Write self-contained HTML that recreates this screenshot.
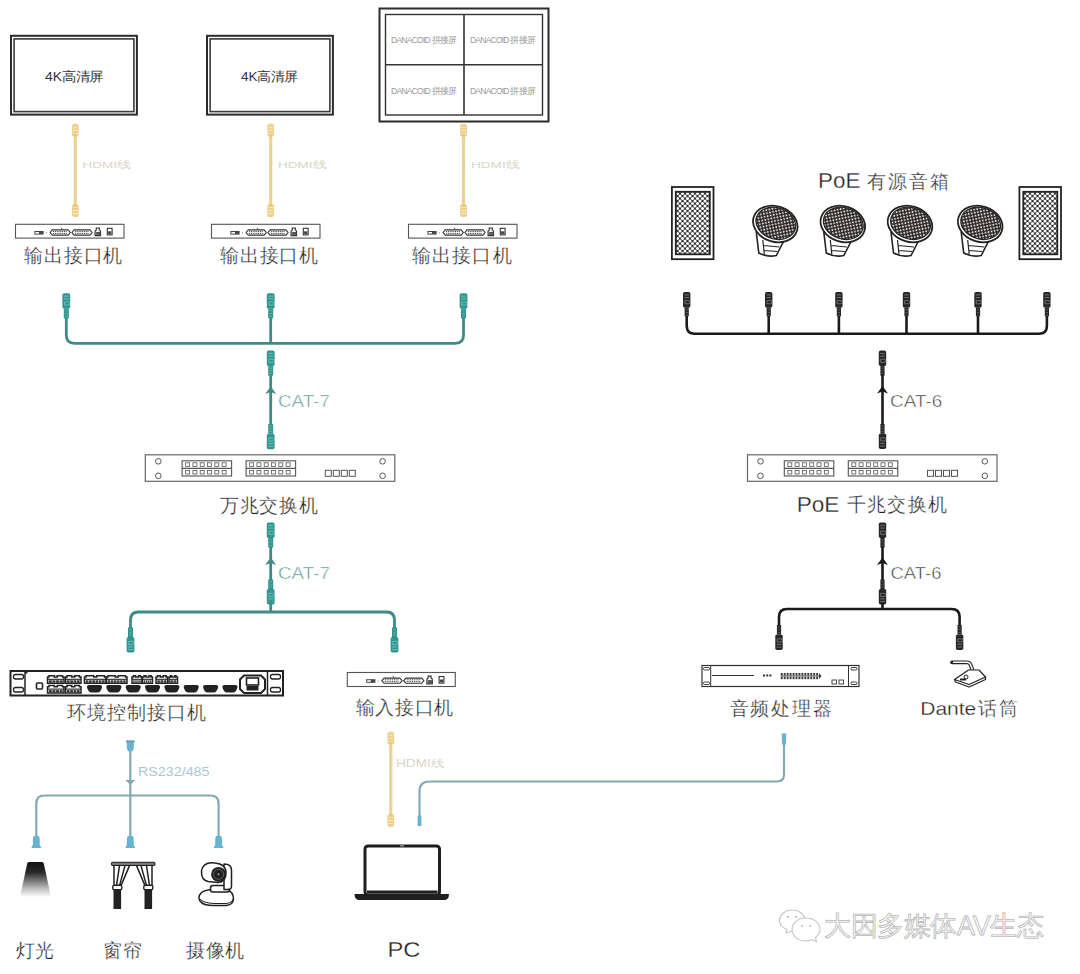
<!DOCTYPE html><html><head><meta charset="utf-8"><style>html,body{margin:0;padding:0;background:#fff;width:1080px;height:974px;overflow:hidden}svg{display:block}</style></head><body><svg width="1080" height="974" viewBox="0 0 1080 974" font-family="'Liberation Sans', sans-serif"><defs><pattern id="mesh" width="5" height="5" patternUnits="userSpaceOnUse" x="675" y="191"><rect width="5" height="5" fill="#2b2b2b"/><circle cx="0" cy="0" r="1.55" fill="#fff"/><circle cx="5" cy="0" r="1.55" fill="#fff"/><circle cx="0" cy="5" r="1.55" fill="#fff"/><circle cx="5" cy="5" r="1.55" fill="#fff"/><circle cx="2.5" cy="2.5" r="1.55" fill="#fff"/></pattern><pattern id="mesh2" width="4.4" height="4.4" patternUnits="userSpaceOnUse" patternTransform="rotate(15)"><rect width="4.4" height="4.4" fill="#2e2626"/><circle cx="0" cy="0" r="0.95" fill="#fff"/><circle cx="4.4" cy="0" r="0.95" fill="#fff"/><circle cx="0" cy="4.4" r="0.95" fill="#fff"/><circle cx="4.4" cy="4.4" r="0.95" fill="#fff"/><circle cx="2.2" cy="2.2" r="0.95" fill="#fff"/></pattern><linearGradient id="lamp" x1="0" y1="0" x2="0" y2="1"><stop offset="0" stop-color="#111"/><stop offset="0.3" stop-color="#2a2a2a"/><stop offset="0.75" stop-color="#bbb"/><stop offset="1" stop-color="#fff"/></linearGradient></defs><rect width="1080" height="974" fill="#fff"/><rect x="11" y="35.8" width="125.9" height="78.8" fill="none" stroke="#2b2b2b" stroke-width="2"/><rect x="14.1" y="38.9" width="119.8" height="72.7" fill="none" stroke="#3a3a3a" stroke-width="1.6"/><rect x="207" y="35.8" width="125.9" height="78.8" fill="none" stroke="#2b2b2b" stroke-width="2"/><rect x="210.1" y="38.9" width="119.8" height="72.7" fill="none" stroke="#3a3a3a" stroke-width="1.6"/><rect x="379.5" y="8.5" width="169" height="113" fill="none" stroke="#2b2b2b" stroke-width="2"/><rect x="385.5" y="14.5" width="157" height="100.5" fill="none" stroke="#333" stroke-width="1.4"/><line x1="464" y1="14.5" x2="464" y2="115" stroke="#333" stroke-width="1.6"/><line x1="385.5" y1="64.8" x2="542.5" y2="64.8" stroke="#333" stroke-width="1.6"/><line x1="75.3" y1="131.8" x2="75.3" y2="209" stroke="#ead493" stroke-width="3.2"/><rect x="71.89999999999999" y="123.8" width="6.8" height="13" rx="2.8" fill="#e8c670" opacity="0.8"/><rect x="72.89999999999999" y="126.8" width="4.8" height="0.9" fill="#f6ead0"/><rect x="72.89999999999999" y="129.8" width="4.8" height="0.9" fill="#f6ead0"/><rect x="72.89999999999999" y="132.8" width="4.8" height="0.9" fill="#f6ead0"/><rect x="71.89999999999999" y="204" width="6.8" height="13" rx="2.8" fill="#e8c670" opacity="0.8"/><rect x="72.89999999999999" y="207" width="4.8" height="0.9" fill="#f6ead0"/><rect x="72.89999999999999" y="210" width="4.8" height="0.9" fill="#f6ead0"/><rect x="72.89999999999999" y="213" width="4.8" height="0.9" fill="#f6ead0"/><line x1="270.7" y1="131.8" x2="270.7" y2="209" stroke="#ead493" stroke-width="3.2"/><rect x="267.3" y="123.8" width="6.8" height="13" rx="2.8" fill="#e8c670" opacity="0.8"/><rect x="268.3" y="126.8" width="4.8" height="0.9" fill="#f6ead0"/><rect x="268.3" y="129.8" width="4.8" height="0.9" fill="#f6ead0"/><rect x="268.3" y="132.8" width="4.8" height="0.9" fill="#f6ead0"/><rect x="267.3" y="204" width="6.8" height="13" rx="2.8" fill="#e8c670" opacity="0.8"/><rect x="268.3" y="207" width="4.8" height="0.9" fill="#f6ead0"/><rect x="268.3" y="210" width="4.8" height="0.9" fill="#f6ead0"/><rect x="268.3" y="213" width="4.8" height="0.9" fill="#f6ead0"/><line x1="463.5" y1="131.8" x2="463.5" y2="209" stroke="#ead493" stroke-width="3.2"/><rect x="460.1" y="123.8" width="6.8" height="13" rx="2.8" fill="#e8c670" opacity="0.8"/><rect x="461.1" y="126.8" width="4.8" height="0.9" fill="#f6ead0"/><rect x="461.1" y="129.8" width="4.8" height="0.9" fill="#f6ead0"/><rect x="461.1" y="132.8" width="4.8" height="0.9" fill="#f6ead0"/><rect x="460.1" y="204" width="6.8" height="13" rx="2.8" fill="#e8c670" opacity="0.8"/><rect x="461.1" y="207" width="4.8" height="0.9" fill="#f6ead0"/><rect x="461.1" y="210" width="4.8" height="0.9" fill="#f6ead0"/><rect x="461.1" y="213" width="4.8" height="0.9" fill="#f6ead0"/><rect x="15.5" y="224.3" width="108.5" height="13.8" fill="#fff" stroke="#555" stroke-width="1.1"/><rect x="34.9" y="231.5" width="8.2" height="2.6" fill="#fff" stroke="#444" stroke-width="1"/><rect x="39.0" y="231.7" width="4" height="2.2" fill="#444"/><circle cx="46.3" cy="232.8" r="0.6" fill="#777"/><path d="M50.1 232.5 l2.2 -2.6 h15.8 l2.2 2.6 l-2.2 2.6 h-15.8 z" fill="#fff" stroke="#333" stroke-width="1.1"/><line x1="53.1" y1="231.6" x2="67.3" y2="231.6" stroke="#333" stroke-width="1" stroke-dasharray="1 0.8"/><line x1="53.1" y1="233.4" x2="67.3" y2="233.4" stroke="#333" stroke-width="1" stroke-dasharray="1 0.8"/><path d="M71.9 232.5 l2.2 -2.6 h15.8 l2.2 2.6 l-2.2 2.6 h-15.8 z" fill="#fff" stroke="#333" stroke-width="1.1"/><line x1="74.9" y1="231.6" x2="89.10000000000001" y2="231.6" stroke="#333" stroke-width="1" stroke-dasharray="1 0.8"/><line x1="74.9" y1="233.4" x2="89.10000000000001" y2="233.4" stroke="#333" stroke-width="1" stroke-dasharray="1 0.8"/><line x1="61.0" y1="227.7" x2="62.5" y2="229.7" stroke="#444" stroke-width="0.9"/><path d="M95.1 235.7 v-4.2 q0 -1.2 1.2 -1.5 l0 -2 h3 l0 2 q1.2 0.3 1.2 1.5 v4.2 z" fill="#fff" stroke="#333" stroke-width="1.2"/><rect x="96.1" y="231.9" width="4.2" height="3" fill="#555"/><rect x="107.3" y="228.3" width="4.8" height="6.6" fill="#fff" stroke="#333" stroke-width="1.1"/><rect x="108.1" y="231.3" width="3.2" height="2.8" fill="#444"/><rect x="211.5" y="224.3" width="108.5" height="13.8" fill="#fff" stroke="#555" stroke-width="1.1"/><rect x="230.9" y="231.5" width="8.2" height="2.6" fill="#fff" stroke="#444" stroke-width="1"/><rect x="235.0" y="231.7" width="4" height="2.2" fill="#444"/><circle cx="242.3" cy="232.8" r="0.6" fill="#777"/><path d="M246.1 232.5 l2.2 -2.6 h15.8 l2.2 2.6 l-2.2 2.6 h-15.8 z" fill="#fff" stroke="#333" stroke-width="1.1"/><line x1="249.1" y1="231.6" x2="263.3" y2="231.6" stroke="#333" stroke-width="1" stroke-dasharray="1 0.8"/><line x1="249.1" y1="233.4" x2="263.3" y2="233.4" stroke="#333" stroke-width="1" stroke-dasharray="1 0.8"/><path d="M267.9 232.5 l2.2 -2.6 h15.8 l2.2 2.6 l-2.2 2.6 h-15.8 z" fill="#fff" stroke="#333" stroke-width="1.1"/><line x1="270.9" y1="231.6" x2="285.09999999999997" y2="231.6" stroke="#333" stroke-width="1" stroke-dasharray="1 0.8"/><line x1="270.9" y1="233.4" x2="285.09999999999997" y2="233.4" stroke="#333" stroke-width="1" stroke-dasharray="1 0.8"/><line x1="257.0" y1="227.7" x2="258.5" y2="229.7" stroke="#444" stroke-width="0.9"/><path d="M291.1 235.7 v-4.2 q0 -1.2 1.2 -1.5 l0 -2 h3 l0 2 q1.2 0.3 1.2 1.5 v4.2 z" fill="#fff" stroke="#333" stroke-width="1.2"/><rect x="292.1" y="231.9" width="4.2" height="3" fill="#555"/><rect x="303.3" y="228.3" width="4.8" height="6.6" fill="#fff" stroke="#333" stroke-width="1.1"/><rect x="304.1" y="231.3" width="3.2" height="2.8" fill="#444"/><rect x="408.5" y="224.3" width="108.5" height="13.8" fill="#fff" stroke="#555" stroke-width="1.1"/><rect x="427.9" y="231.5" width="8.2" height="2.6" fill="#fff" stroke="#444" stroke-width="1"/><rect x="432.0" y="231.7" width="4" height="2.2" fill="#444"/><circle cx="439.3" cy="232.8" r="0.6" fill="#777"/><path d="M443.1 232.5 l2.2 -2.6 h15.8 l2.2 2.6 l-2.2 2.6 h-15.8 z" fill="#fff" stroke="#333" stroke-width="1.1"/><line x1="446.1" y1="231.6" x2="460.3" y2="231.6" stroke="#333" stroke-width="1" stroke-dasharray="1 0.8"/><line x1="446.1" y1="233.4" x2="460.3" y2="233.4" stroke="#333" stroke-width="1" stroke-dasharray="1 0.8"/><path d="M464.9 232.5 l2.2 -2.6 h15.8 l2.2 2.6 l-2.2 2.6 h-15.8 z" fill="#fff" stroke="#333" stroke-width="1.1"/><line x1="467.9" y1="231.6" x2="482.09999999999997" y2="231.6" stroke="#333" stroke-width="1" stroke-dasharray="1 0.8"/><line x1="467.9" y1="233.4" x2="482.09999999999997" y2="233.4" stroke="#333" stroke-width="1" stroke-dasharray="1 0.8"/><line x1="454.0" y1="227.7" x2="455.5" y2="229.7" stroke="#444" stroke-width="0.9"/><path d="M488.1 235.7 v-4.2 q0 -1.2 1.2 -1.5 l0 -2 h3 l0 2 q1.2 0.3 1.2 1.5 v4.2 z" fill="#fff" stroke="#333" stroke-width="1.2"/><rect x="489.1" y="231.9" width="4.2" height="3" fill="#555"/><rect x="500.3" y="228.3" width="4.8" height="6.6" fill="#fff" stroke="#333" stroke-width="1.1"/><rect x="501.1" y="231.3" width="3.2" height="2.8" fill="#444"/><path d="M66.3 316 V335.3 Q66.3 343.3 74.3 343.3 H455.5 Q463.5 343.3 463.5 335.3 V316" fill="none" stroke="#3f8b86" stroke-width="2.8"/><line x1="270.7" y1="316" x2="270.7" y2="343.3" stroke="#3f8b86" stroke-width="2.8"/><rect x="62.40" y="293.30" width="7.8" height="15.5" rx="1.8" fill="#2f958e"/><rect x="63.80" y="295.60" width="5.00" height="1.1" fill="#9fe0d8" opacity="0.55"/><rect x="63.80" y="298.30" width="5.00" height="1.1" fill="#9fe0d8" opacity="0.55"/><path d="M64.50 301.90 h3.6 a1.6 1.6 0 0 1 0 3.2 h-3.6 z" fill="none" stroke="#9fe0d8" stroke-width="0.9" opacity="0.6"/><rect x="63.80" y="308.80" width="5" height="9.5" fill="#2f958e"/><rect x="64.80" y="310.40" width="3.00" height="0.8" fill="#9fe0d8" opacity="0.5"/><rect x="64.80" y="313.10" width="3.00" height="0.8" fill="#9fe0d8" opacity="0.5"/><rect x="64.80" y="315.80" width="3.00" height="0.8" fill="#9fe0d8" opacity="0.5"/><rect x="266.80" y="293.30" width="7.8" height="15.5" rx="1.8" fill="#2f958e"/><rect x="268.20" y="295.60" width="5.00" height="1.1" fill="#9fe0d8" opacity="0.55"/><rect x="268.20" y="298.30" width="5.00" height="1.1" fill="#9fe0d8" opacity="0.55"/><path d="M268.90 301.90 h3.6 a1.6 1.6 0 0 1 0 3.2 h-3.6 z" fill="none" stroke="#9fe0d8" stroke-width="0.9" opacity="0.6"/><rect x="268.20" y="308.80" width="5" height="9.5" fill="#2f958e"/><rect x="269.20" y="310.40" width="3.00" height="0.8" fill="#9fe0d8" opacity="0.5"/><rect x="269.20" y="313.10" width="3.00" height="0.8" fill="#9fe0d8" opacity="0.5"/><rect x="269.20" y="315.80" width="3.00" height="0.8" fill="#9fe0d8" opacity="0.5"/><rect x="459.60" y="293.30" width="7.8" height="15.5" rx="1.8" fill="#2f958e"/><rect x="461.00" y="295.60" width="5.00" height="1.1" fill="#9fe0d8" opacity="0.55"/><rect x="461.00" y="298.30" width="5.00" height="1.1" fill="#9fe0d8" opacity="0.55"/><path d="M461.70 301.90 h3.6 a1.6 1.6 0 0 1 0 3.2 h-3.6 z" fill="none" stroke="#9fe0d8" stroke-width="0.9" opacity="0.6"/><rect x="461.00" y="308.80" width="5" height="9.5" fill="#2f958e"/><rect x="462.00" y="310.40" width="3.00" height="0.8" fill="#9fe0d8" opacity="0.5"/><rect x="462.00" y="313.10" width="3.00" height="0.8" fill="#9fe0d8" opacity="0.5"/><rect x="462.00" y="315.80" width="3.00" height="0.8" fill="#9fe0d8" opacity="0.5"/><rect x="266.80" y="350.60" width="7.8" height="15.5" rx="1.8" fill="#2f958e"/><rect x="268.20" y="352.90" width="5.00" height="1.1" fill="#9fe0d8" opacity="0.55"/><rect x="268.20" y="355.60" width="5.00" height="1.1" fill="#9fe0d8" opacity="0.55"/><path d="M268.90 359.20 h3.6 a1.6 1.6 0 0 1 0 3.2 h-3.6 z" fill="none" stroke="#9fe0d8" stroke-width="0.9" opacity="0.6"/><rect x="268.20" y="366.10" width="5" height="9.5" fill="#2f958e"/><rect x="269.20" y="367.70" width="3.00" height="0.8" fill="#9fe0d8" opacity="0.5"/><rect x="269.20" y="370.40" width="3.00" height="0.8" fill="#9fe0d8" opacity="0.5"/><rect x="269.20" y="373.10" width="3.00" height="0.8" fill="#9fe0d8" opacity="0.5"/><line x1="270.7" y1="374" x2="270.7" y2="427" stroke="#3f8b86" stroke-width="2.8"/><path d="M270.7 386.5 L276.2 394.0 L270.7 392.0 L265.2 394.0 Z" fill="#3f8b86"/><rect x="266.80" y="433.70" width="7.8" height="15.5" rx="1.8" fill="#2f958e"/><rect x="268.20" y="445.70" width="5.00" height="1.1" fill="#9fe0d8" opacity="0.55"/><rect x="268.20" y="443.00" width="5.00" height="1.1" fill="#9fe0d8" opacity="0.55"/><path d="M268.90 438.00 h3.6 a1.6 1.6 0 0 1 0 3.2 h-3.6 z" fill="none" stroke="#9fe0d8" stroke-width="0.9" opacity="0.6"/><rect x="268.20" y="424.20" width="5" height="9.5" fill="#2f958e"/><rect x="269.20" y="425.80" width="3.00" height="0.8" fill="#9fe0d8" opacity="0.5"/><rect x="269.20" y="428.50" width="3.00" height="0.8" fill="#9fe0d8" opacity="0.5"/><rect x="269.20" y="431.20" width="3.00" height="0.8" fill="#9fe0d8" opacity="0.5"/><rect x="145.3" y="454.8" width="249.5" height="26.5" fill="#fff" stroke="#666" stroke-width="1.2"/><circle cx="158.3" cy="461.3" r="2.8" fill="none" stroke="#555" stroke-width="1"/><circle cx="382.6" cy="461.3" r="2.8" fill="none" stroke="#555" stroke-width="1"/><circle cx="158.3" cy="475.8" r="2.8" fill="none" stroke="#555" stroke-width="1"/><circle cx="382.6" cy="475.8" r="2.8" fill="none" stroke="#555" stroke-width="1"/><rect x="182.10000000000002" y="460.8" width="49.5" height="15.2" fill="none" stroke="#555" stroke-width="1.1"/><line x1="182.10000000000002" y1="468.40000000000003" x2="231.60000000000002" y2="468.40000000000003" stroke="#555" stroke-width="1.3"/><rect x="185.60000000000002" y="462.8" width="4" height="3.6" fill="none" stroke="#555" stroke-width="0.8"/><rect x="185.60000000000002" y="470.40000000000003" width="4" height="3.6" fill="none" stroke="#555" stroke-width="0.8"/><rect x="192.90000000000003" y="462.8" width="4" height="3.6" fill="none" stroke="#555" stroke-width="0.8"/><rect x="192.90000000000003" y="470.40000000000003" width="4" height="3.6" fill="none" stroke="#555" stroke-width="0.8"/><rect x="200.20000000000002" y="462.8" width="4" height="3.6" fill="none" stroke="#555" stroke-width="0.8"/><rect x="200.20000000000002" y="470.40000000000003" width="4" height="3.6" fill="none" stroke="#555" stroke-width="0.8"/><rect x="207.50000000000003" y="462.8" width="4" height="3.6" fill="none" stroke="#555" stroke-width="0.8"/><rect x="207.50000000000003" y="470.40000000000003" width="4" height="3.6" fill="none" stroke="#555" stroke-width="0.8"/><rect x="214.8" y="462.8" width="4" height="3.6" fill="none" stroke="#555" stroke-width="0.8"/><rect x="214.8" y="470.40000000000003" width="4" height="3.6" fill="none" stroke="#555" stroke-width="0.8"/><rect x="222.10000000000002" y="462.8" width="4" height="3.6" fill="none" stroke="#555" stroke-width="0.8"/><rect x="222.10000000000002" y="470.40000000000003" width="4" height="3.6" fill="none" stroke="#555" stroke-width="0.8"/><rect x="246.10000000000002" y="460.8" width="49.5" height="15.2" fill="none" stroke="#555" stroke-width="1.1"/><line x1="246.10000000000002" y1="468.40000000000003" x2="295.6" y2="468.40000000000003" stroke="#555" stroke-width="1.3"/><rect x="249.60000000000002" y="462.8" width="4" height="3.6" fill="none" stroke="#555" stroke-width="0.8"/><rect x="249.60000000000002" y="470.40000000000003" width="4" height="3.6" fill="none" stroke="#555" stroke-width="0.8"/><rect x="256.90000000000003" y="462.8" width="4" height="3.6" fill="none" stroke="#555" stroke-width="0.8"/><rect x="256.90000000000003" y="470.40000000000003" width="4" height="3.6" fill="none" stroke="#555" stroke-width="0.8"/><rect x="264.20000000000005" y="462.8" width="4" height="3.6" fill="none" stroke="#555" stroke-width="0.8"/><rect x="264.20000000000005" y="470.40000000000003" width="4" height="3.6" fill="none" stroke="#555" stroke-width="0.8"/><rect x="271.5" y="462.8" width="4" height="3.6" fill="none" stroke="#555" stroke-width="0.8"/><rect x="271.5" y="470.40000000000003" width="4" height="3.6" fill="none" stroke="#555" stroke-width="0.8"/><rect x="278.8" y="462.8" width="4" height="3.6" fill="none" stroke="#555" stroke-width="0.8"/><rect x="278.8" y="470.40000000000003" width="4" height="3.6" fill="none" stroke="#555" stroke-width="0.8"/><rect x="286.1" y="462.8" width="4" height="3.6" fill="none" stroke="#555" stroke-width="0.8"/><rect x="286.1" y="470.40000000000003" width="4" height="3.6" fill="none" stroke="#555" stroke-width="0.8"/><rect x="325.3" y="470.3" width="6" height="6" fill="none" stroke="#555" stroke-width="1"/><rect x="333.3" y="470.3" width="6" height="6" fill="none" stroke="#555" stroke-width="1"/><rect x="341.3" y="470.3" width="6" height="6" fill="none" stroke="#555" stroke-width="1"/><rect x="349.3" y="470.3" width="6" height="6" fill="none" stroke="#555" stroke-width="1"/><rect x="747.5" y="454.8" width="249.5" height="26.5" fill="#fff" stroke="#666" stroke-width="1.2"/><circle cx="760.5" cy="461.3" r="2.8" fill="none" stroke="#555" stroke-width="1"/><circle cx="984.8" cy="461.3" r="2.8" fill="none" stroke="#555" stroke-width="1"/><circle cx="760.5" cy="475.8" r="2.8" fill="none" stroke="#555" stroke-width="1"/><circle cx="984.8" cy="475.8" r="2.8" fill="none" stroke="#555" stroke-width="1"/><rect x="784.3" y="460.8" width="49.5" height="15.2" fill="none" stroke="#555" stroke-width="1.1"/><line x1="784.3" y1="468.40000000000003" x2="833.8" y2="468.40000000000003" stroke="#555" stroke-width="1.3"/><rect x="787.8" y="462.8" width="4" height="3.6" fill="none" stroke="#555" stroke-width="0.8"/><rect x="787.8" y="470.40000000000003" width="4" height="3.6" fill="none" stroke="#555" stroke-width="0.8"/><rect x="795.0999999999999" y="462.8" width="4" height="3.6" fill="none" stroke="#555" stroke-width="0.8"/><rect x="795.0999999999999" y="470.40000000000003" width="4" height="3.6" fill="none" stroke="#555" stroke-width="0.8"/><rect x="802.4" y="462.8" width="4" height="3.6" fill="none" stroke="#555" stroke-width="0.8"/><rect x="802.4" y="470.40000000000003" width="4" height="3.6" fill="none" stroke="#555" stroke-width="0.8"/><rect x="809.6999999999999" y="462.8" width="4" height="3.6" fill="none" stroke="#555" stroke-width="0.8"/><rect x="809.6999999999999" y="470.40000000000003" width="4" height="3.6" fill="none" stroke="#555" stroke-width="0.8"/><rect x="817.0" y="462.8" width="4" height="3.6" fill="none" stroke="#555" stroke-width="0.8"/><rect x="817.0" y="470.40000000000003" width="4" height="3.6" fill="none" stroke="#555" stroke-width="0.8"/><rect x="824.3" y="462.8" width="4" height="3.6" fill="none" stroke="#555" stroke-width="0.8"/><rect x="824.3" y="470.40000000000003" width="4" height="3.6" fill="none" stroke="#555" stroke-width="0.8"/><rect x="848.3" y="460.8" width="49.5" height="15.2" fill="none" stroke="#555" stroke-width="1.1"/><line x1="848.3" y1="468.40000000000003" x2="897.8" y2="468.40000000000003" stroke="#555" stroke-width="1.3"/><rect x="851.8" y="462.8" width="4" height="3.6" fill="none" stroke="#555" stroke-width="0.8"/><rect x="851.8" y="470.40000000000003" width="4" height="3.6" fill="none" stroke="#555" stroke-width="0.8"/><rect x="859.0999999999999" y="462.8" width="4" height="3.6" fill="none" stroke="#555" stroke-width="0.8"/><rect x="859.0999999999999" y="470.40000000000003" width="4" height="3.6" fill="none" stroke="#555" stroke-width="0.8"/><rect x="866.4" y="462.8" width="4" height="3.6" fill="none" stroke="#555" stroke-width="0.8"/><rect x="866.4" y="470.40000000000003" width="4" height="3.6" fill="none" stroke="#555" stroke-width="0.8"/><rect x="873.6999999999999" y="462.8" width="4" height="3.6" fill="none" stroke="#555" stroke-width="0.8"/><rect x="873.6999999999999" y="470.40000000000003" width="4" height="3.6" fill="none" stroke="#555" stroke-width="0.8"/><rect x="881.0" y="462.8" width="4" height="3.6" fill="none" stroke="#555" stroke-width="0.8"/><rect x="881.0" y="470.40000000000003" width="4" height="3.6" fill="none" stroke="#555" stroke-width="0.8"/><rect x="888.3" y="462.8" width="4" height="3.6" fill="none" stroke="#555" stroke-width="0.8"/><rect x="888.3" y="470.40000000000003" width="4" height="3.6" fill="none" stroke="#555" stroke-width="0.8"/><rect x="927.5" y="470.3" width="6" height="6" fill="none" stroke="#555" stroke-width="1"/><rect x="935.5" y="470.3" width="6" height="6" fill="none" stroke="#555" stroke-width="1"/><rect x="943.5" y="470.3" width="6" height="6" fill="none" stroke="#555" stroke-width="1"/><rect x="951.5" y="470.3" width="6" height="6" fill="none" stroke="#555" stroke-width="1"/><rect x="266.80" y="522.50" width="7.8" height="15.5" rx="1.8" fill="#2f958e"/><rect x="268.20" y="524.80" width="5.00" height="1.1" fill="#9fe0d8" opacity="0.55"/><rect x="268.20" y="527.50" width="5.00" height="1.1" fill="#9fe0d8" opacity="0.55"/><path d="M268.90 531.10 h3.6 a1.6 1.6 0 0 1 0 3.2 h-3.6 z" fill="none" stroke="#9fe0d8" stroke-width="0.9" opacity="0.6"/><rect x="268.20" y="538.00" width="5" height="9.5" fill="#2f958e"/><rect x="269.20" y="539.60" width="3.00" height="0.8" fill="#9fe0d8" opacity="0.5"/><rect x="269.20" y="542.30" width="3.00" height="0.8" fill="#9fe0d8" opacity="0.5"/><rect x="269.20" y="545.00" width="3.00" height="0.8" fill="#9fe0d8" opacity="0.5"/><line x1="270.7" y1="546" x2="270.7" y2="582" stroke="#3f8b86" stroke-width="2.8"/><path d="M270.7 557.5 L276.2 565.0 L270.7 563.0 L265.2 565.0 Z" fill="#3f8b86"/><rect x="266.80" y="589.00" width="7.8" height="15.5" rx="1.8" fill="#2f958e"/><rect x="268.20" y="601.00" width="5.00" height="1.1" fill="#9fe0d8" opacity="0.55"/><rect x="268.20" y="598.30" width="5.00" height="1.1" fill="#9fe0d8" opacity="0.55"/><path d="M268.90 593.30 h3.6 a1.6 1.6 0 0 1 0 3.2 h-3.6 z" fill="none" stroke="#9fe0d8" stroke-width="0.9" opacity="0.6"/><rect x="268.20" y="579.50" width="5" height="9.5" fill="#2f958e"/><rect x="269.20" y="581.10" width="3.00" height="0.8" fill="#9fe0d8" opacity="0.5"/><rect x="269.20" y="583.80" width="3.00" height="0.8" fill="#9fe0d8" opacity="0.5"/><rect x="269.20" y="586.50" width="3.00" height="0.8" fill="#9fe0d8" opacity="0.5"/><path d="M130.5 630 V620 Q130.5 612 138.5 612 H386.5 Q394.5 612 394.5 620 V630" fill="none" stroke="#3f8b86" stroke-width="2.8"/><line x1="270.7" y1="600" x2="270.7" y2="612" stroke="#3f8b86" stroke-width="2.8"/><rect x="126.60" y="637.00" width="7.8" height="15.5" rx="1.8" fill="#2f958e"/><rect x="128.00" y="649.00" width="5.00" height="1.1" fill="#9fe0d8" opacity="0.55"/><rect x="128.00" y="646.30" width="5.00" height="1.1" fill="#9fe0d8" opacity="0.55"/><path d="M128.70 641.30 h3.6 a1.6 1.6 0 0 1 0 3.2 h-3.6 z" fill="none" stroke="#9fe0d8" stroke-width="0.9" opacity="0.6"/><rect x="128.00" y="627.50" width="5" height="9.5" fill="#2f958e"/><rect x="129.00" y="629.10" width="3.00" height="0.8" fill="#9fe0d8" opacity="0.5"/><rect x="129.00" y="631.80" width="3.00" height="0.8" fill="#9fe0d8" opacity="0.5"/><rect x="129.00" y="634.50" width="3.00" height="0.8" fill="#9fe0d8" opacity="0.5"/><rect x="390.60" y="637.00" width="7.8" height="15.5" rx="1.8" fill="#2f958e"/><rect x="392.00" y="649.00" width="5.00" height="1.1" fill="#9fe0d8" opacity="0.55"/><rect x="392.00" y="646.30" width="5.00" height="1.1" fill="#9fe0d8" opacity="0.55"/><path d="M392.70 641.30 h3.6 a1.6 1.6 0 0 1 0 3.2 h-3.6 z" fill="none" stroke="#9fe0d8" stroke-width="0.9" opacity="0.6"/><rect x="392.00" y="627.50" width="5" height="9.5" fill="#2f958e"/><rect x="393.00" y="629.10" width="3.00" height="0.8" fill="#9fe0d8" opacity="0.5"/><rect x="393.00" y="631.80" width="3.00" height="0.8" fill="#9fe0d8" opacity="0.5"/><rect x="393.00" y="634.50" width="3.00" height="0.8" fill="#9fe0d8" opacity="0.5"/><rect x="10.5" y="671" width="272.5" height="24.5" fill="#fff" stroke="#222" stroke-width="2"/><line x1="25" y1="671" x2="25" y2="695.5" stroke="#222" stroke-width="1.5"/><line x1="267.5" y1="671" x2="267.5" y2="695.5" stroke="#222" stroke-width="1.5"/><rect x="25" y="671" width="2.5" height="2.5" fill="#222"/><rect x="13.5" y="674.5" width="10" height="4.5" rx="2" fill="none" stroke="#222" stroke-width="1.3"/><rect x="13.5" y="687.5" width="10" height="4.5" rx="2" fill="none" stroke="#222" stroke-width="1.3"/><rect x="270.5" y="674.5" width="10" height="4.5" rx="2" fill="none" stroke="#222" stroke-width="1.3"/><rect x="270.5" y="687.5" width="10" height="4.5" rx="2" fill="none" stroke="#222" stroke-width="1.3"/><rect x="36.5" y="683" width="6" height="6" rx="1" fill="none" stroke="#222" stroke-width="1.6"/><path d="M47.5 677 h1.5 v-1.3 h5.25 v1.3 h3 v-1.3 h5.25 v1.3 h1.5 v6.3 h-16.5 z" fill="#fff" stroke="#222" stroke-width="1.5"/><line x1="47.5" y1="679.3" x2="64.0" y2="679.3" stroke="#222" stroke-width="1.1"/><rect x="48.80" y="680.3" width="3.02" height="2.4" fill="#333"/><rect x="52.42" y="680.3" width="3.02" height="2.4" fill="#333"/><rect x="56.05" y="680.3" width="3.02" height="2.4" fill="#333"/><rect x="59.67" y="680.3" width="3.02" height="2.4" fill="#333"/><path d="M65.5 677 h1.5 v-1.3 h4.75 v1.3 h3 v-1.3 h4.75 v1.3 h1.5 v6.3 h-15.5 z" fill="#fff" stroke="#222" stroke-width="1.5"/><line x1="65.5" y1="679.3" x2="81.0" y2="679.3" stroke="#222" stroke-width="1.1"/><rect x="66.80" y="680.3" width="2.77" height="2.4" fill="#333"/><rect x="70.17" y="680.3" width="2.77" height="2.4" fill="#333"/><rect x="73.55" y="680.3" width="2.77" height="2.4" fill="#333"/><rect x="76.92" y="680.3" width="2.77" height="2.4" fill="#333"/><path d="M84.5 677 h1.5 v-1.3 h7.75 v1.3 h3 v-1.3 h7.75 v1.3 h1.5 v6.3 h-21.5 z" fill="#fff" stroke="#222" stroke-width="1.5"/><line x1="84.5" y1="679.3" x2="106.0" y2="679.3" stroke="#222" stroke-width="1.1"/><rect x="85.80" y="680.3" width="2.65" height="2.4" fill="#333"/><rect x="89.05" y="680.3" width="2.65" height="2.4" fill="#333"/><rect x="92.30" y="680.3" width="2.65" height="2.4" fill="#333"/><rect x="95.55" y="680.3" width="2.65" height="2.4" fill="#333"/><rect x="98.80" y="680.3" width="2.65" height="2.4" fill="#333"/><rect x="102.05" y="680.3" width="2.65" height="2.4" fill="#333"/><path d="M106.5 677 h1.5 v-1.3 h7.25 v1.3 h3 v-1.3 h7.25 v1.3 h1.5 v6.3 h-20.5 z" fill="#fff" stroke="#222" stroke-width="1.5"/><line x1="106.5" y1="679.3" x2="127.0" y2="679.3" stroke="#222" stroke-width="1.1"/><rect x="107.80" y="680.3" width="2.48" height="2.4" fill="#333"/><rect x="110.88" y="680.3" width="2.48" height="2.4" fill="#333"/><rect x="113.97" y="680.3" width="2.48" height="2.4" fill="#333"/><rect x="117.05" y="680.3" width="2.48" height="2.4" fill="#333"/><rect x="120.13" y="680.3" width="2.48" height="2.4" fill="#333"/><rect x="123.22" y="680.3" width="2.48" height="2.4" fill="#333"/><path d="M132 677 h1.5 v-1.3 h2.00 v1.3 h3 v-1.3 h2.00 v1.3 h1.5 v6.3 h-10 z" fill="#fff" stroke="#222" stroke-width="1.5"/><line x1="132" y1="679.3" x2="142" y2="679.3" stroke="#222" stroke-width="1.1"/><rect x="133.30" y="680.3" width="1.40" height="2.4" fill="#333"/><rect x="135.30" y="680.3" width="1.40" height="2.4" fill="#333"/><rect x="137.30" y="680.3" width="1.40" height="2.4" fill="#333"/><rect x="139.30" y="680.3" width="1.40" height="2.4" fill="#333"/><path d="M142.5 677 h1.5 v-1.3 h2.00 v1.3 h3 v-1.3 h2.00 v1.3 h1.5 v6.3 h-10 z" fill="#fff" stroke="#222" stroke-width="1.5"/><line x1="142.5" y1="679.3" x2="152.5" y2="679.3" stroke="#222" stroke-width="1.1"/><rect x="143.80" y="680.3" width="1.40" height="2.4" fill="#333"/><rect x="145.80" y="680.3" width="1.40" height="2.4" fill="#333"/><rect x="147.80" y="680.3" width="1.40" height="2.4" fill="#333"/><rect x="149.80" y="680.3" width="1.40" height="2.4" fill="#333"/><path d="M156 677 h1.5 v-1.3 h2.75 v1.3 h3 v-1.3 h2.75 v1.3 h1.5 v6.3 h-11.5 z" fill="#fff" stroke="#222" stroke-width="1.5"/><line x1="156" y1="679.3" x2="167.5" y2="679.3" stroke="#222" stroke-width="1.1"/><rect x="157.30" y="680.3" width="2.57" height="2.4" fill="#333"/><rect x="160.47" y="680.3" width="2.57" height="2.4" fill="#333"/><rect x="163.63" y="680.3" width="2.57" height="2.4" fill="#333"/><path d="M169 677 h1.5 v-1.3 h1.25 v1.3 h3 v-1.3 h1.25 v1.3 h1.5 v6.3 h-8.5 z" fill="#fff" stroke="#222" stroke-width="1.5"/><line x1="169" y1="679.3" x2="177.5" y2="679.3" stroke="#222" stroke-width="1.1"/><rect x="170.30" y="680.3" width="2.65" height="2.4" fill="#333"/><rect x="173.55" y="680.3" width="2.65" height="2.4" fill="#333"/><path d="M47.5 686.8 h1.5 v-1.3 h5.25 v1.3 h3 v-1.3 h5.25 v1.3 h1.5 v6.3 h-16.5 z" fill="#fff" stroke="#222" stroke-width="1.5"/><line x1="47.5" y1="689.0999999999999" x2="64.0" y2="689.0999999999999" stroke="#222" stroke-width="1.1"/><rect x="48.80" y="690.0999999999999" width="3.02" height="2.4" fill="#333"/><rect x="52.42" y="690.0999999999999" width="3.02" height="2.4" fill="#333"/><rect x="56.05" y="690.0999999999999" width="3.02" height="2.4" fill="#333"/><rect x="59.67" y="690.0999999999999" width="3.02" height="2.4" fill="#333"/><path d="M65.5 686.8 h1.5 v-1.3 h4.75 v1.3 h3 v-1.3 h4.75 v1.3 h1.5 v6.3 h-15.5 z" fill="#fff" stroke="#222" stroke-width="1.5"/><line x1="65.5" y1="689.0999999999999" x2="81.0" y2="689.0999999999999" stroke="#222" stroke-width="1.1"/><rect x="66.80" y="690.0999999999999" width="2.77" height="2.4" fill="#333"/><rect x="70.17" y="690.0999999999999" width="2.77" height="2.4" fill="#333"/><rect x="73.55" y="690.0999999999999" width="2.77" height="2.4" fill="#333"/><rect x="76.92" y="690.0999999999999" width="2.77" height="2.4" fill="#333"/><path d="M86.90 686.8 Q86.90 685 89.00 685 H100.00 Q102.10 685 102.10 686.8 Q101.00 692.6 97.50 692.6 H91.50 Q88.00 692.6 86.90 686.8 Z" fill="#222"/><path d="M106.25 686.8 Q106.25 685 108.35 685 H119.35 Q121.45 685 121.45 686.8 Q120.35 692.6 116.85 692.6 H110.85 Q107.35 692.6 106.25 686.8 Z" fill="#222"/><path d="M125.60 686.8 Q125.60 685 127.70 685 H138.70 Q140.80 685 140.80 686.8 Q139.70 692.6 136.20 692.6 H130.20 Q126.70 692.6 125.60 686.8 Z" fill="#222"/><path d="M144.95 686.8 Q144.95 685 147.05 685 H158.05 Q160.15 685 160.15 686.8 Q159.05 692.6 155.55 692.6 H149.55 Q146.05 692.6 144.95 686.8 Z" fill="#222"/><path d="M164.30 686.8 Q164.30 685 166.40 685 H177.40 Q179.50 685 179.50 686.8 Q178.40 692.6 174.90 692.6 H168.90 Q165.40 692.6 164.30 686.8 Z" fill="#222"/><path d="M183.65 686.8 Q183.65 685 185.75 685 H196.75 Q198.85 685 198.85 686.8 Q197.75 692.6 194.25 692.6 H188.25 Q184.75 692.6 183.65 686.8 Z" fill="#222"/><path d="M203.00 686.8 Q203.00 685 205.10 685 H216.10 Q218.20 685 218.20 686.8 Q217.10 692.6 213.60 692.6 H207.60 Q204.10 692.6 203.00 686.8 Z" fill="#222"/><path d="M222.35 686.8 Q222.35 685 224.45 685 H235.45 Q237.55 685 237.55 686.8 Q236.45 692.6 232.95 692.6 H226.95 Q223.45 692.6 222.35 686.8 Z" fill="#222"/><path d="M244 675.5 h17 l4 4 v9.5 l-4 4 h-17 l-4 -4 v-9.5 z" fill="none" stroke="#222" stroke-width="2"/><rect x="246.5" y="678" width="12" height="7" fill="none" stroke="#222" stroke-width="1.6"/><rect x="246.5" y="686" width="12" height="4.5" fill="#222"/><rect x="347.3" y="672.5" width="108" height="14" fill="#fff" stroke="#555" stroke-width="1.1"/><rect x="366.7" y="679.7" width="8.2" height="2.6" fill="#fff" stroke="#444" stroke-width="1"/><rect x="370.8" y="679.9000000000001" width="4" height="2.2" fill="#444"/><circle cx="378.1" cy="681.0" r="0.6" fill="#777"/><path d="M381.90000000000003 680.7 l2.2 -2.6 h15.8 l2.2 2.6 l-2.2 2.6 h-15.8 z" fill="#fff" stroke="#333" stroke-width="1.1"/><line x1="384.90000000000003" y1="679.8000000000001" x2="399.1" y2="679.8000000000001" stroke="#333" stroke-width="1" stroke-dasharray="1 0.8"/><line x1="384.90000000000003" y1="681.6" x2="399.1" y2="681.6" stroke="#333" stroke-width="1" stroke-dasharray="1 0.8"/><path d="M403.7 680.7 l2.2 -2.6 h15.8 l2.2 2.6 l-2.2 2.6 h-15.8 z" fill="#fff" stroke="#333" stroke-width="1.1"/><line x1="406.7" y1="679.8000000000001" x2="420.9" y2="679.8000000000001" stroke="#333" stroke-width="1" stroke-dasharray="1 0.8"/><line x1="406.7" y1="681.6" x2="420.9" y2="681.6" stroke="#333" stroke-width="1" stroke-dasharray="1 0.8"/><line x1="392.8" y1="675.9000000000001" x2="394.3" y2="677.9000000000001" stroke="#444" stroke-width="0.9"/><path d="M426.9 683.9000000000001 v-4.2 q0 -1.2 1.2 -1.5 l0 -2 h3 l0 2 q1.2 0.3 1.2 1.5 v4.2 z" fill="#fff" stroke="#333" stroke-width="1.2"/><rect x="427.9" y="680.1" width="4.2" height="3" fill="#555"/><rect x="439.1" y="676.5" width="4.8" height="6.6" fill="#fff" stroke="#333" stroke-width="1.1"/><rect x="439.9" y="679.5" width="3.2" height="2.8" fill="#444"/><path d="M36.3 838 V803.5 Q36.3 795.5 44.3 795.5 H210.6 Q218.6 795.5 218.6 803.5 V838" fill="none" stroke="#86a9b1" stroke-width="2.2"/><line x1="130.3" y1="748" x2="130.3" y2="840" stroke="#86a9b1" stroke-width="2.2"/><path d="M126 740.5 h8.6 l-0.8 2.2 v5.8 l-1.3 2.8 h-4.4 l-1.3 -2.8 v-5.8 z" fill="#66b3d3"/><rect x="126" y="740.5" width="8.6" height="2" fill="#7c9aa6"/><path d="M130.3 785 L135.3 780 L125.30000000000001 780 Z" fill="#86a9b1"/><path d="M33.699999999999996 836 h5.2 l0.8 2.5 v6 l1.6 3.5 h-10 l1.6 -3.5 v-6 z" fill="#66b3d3"/><path d="M127.70000000000002 836 h5.2 l0.8 2.5 v6 l1.6 3.5 h-10 l1.6 -3.5 v-6 z" fill="#66b3d3"/><path d="M216.0 836 h5.2 l0.8 2.5 v6 l1.6 3.5 h-10 l1.6 -3.5 v-6 z" fill="#66b3d3"/><path d="M30.5 862 H42 Q43.5 862 43.8 863.5 L51 897 H20 L27.2 863.5 Q27.5 862 29 862 Z" fill="url(#lamp)"/><g fill="#222"><rect x="111.5" y="862.3" width="43.5" height="3.2" rx="1.2" fill="#777" stroke="#222" stroke-width="1.1"/><rect x="113.5" y="890" width="7.6" height="19"/><rect x="144.5" y="890" width="7.6" height="19"/></g><g fill="none" stroke="#222" stroke-width="1.2"><rect x="112.8" y="885.3" width="9" height="4.4" rx="1.5" stroke-width="1.4"/><rect x="143.8" y="885.3" width="9" height="4.4" rx="1.5" stroke-width="1.4"/><path d="M114 865.6 V885.6 M129.5 865.6 L121 885.6 M119.5 865.6 L116.5 885.6 M125 865.6 L119.5 885.6" stroke-width="1.5"/><path d="M152 865.6 V885.6 M136.5 865.6 L145 885.6 M146.5 865.6 L149.5 885.6 M141 865.6 L146.5 885.6" stroke-width="1.5"/></g><g fill="#fff" stroke="#1f1f1f" stroke-width="1.5" stroke-linejoin="round"><path d="M201 893 Q197.5 897 200 901 Q203 905.5 214 905.5 H226 Q233 905 233.5 899 Q233.5 892 227 889.5 H214 Q205 889.5 201 893 Z"/><path d="M200 899 Q203 903 214 903.5 H226 Q232 903 233 899" fill="none" stroke-width="1"/><rect x="210.5" y="885.5" width="19" height="6.5" rx="2.5"/><path d="M224 864 Q231.5 864 231.5 870 V886 Q231.5 889.5 228 889.5 H224 Z"/><path d="M215 863 Q203 861.5 201.5 871 Q201 880 208 881.5 L218 882.5 Q226 882 226 873 Q226 864 215 863 Z"/></g><circle cx="218.5" cy="874.3" r="7.4" fill="#1f1f1f"/><circle cx="218.5" cy="874.3" r="5" fill="none" stroke="#666" stroke-width="0.9"/><circle cx="218.5" cy="874.3" r="1" fill="#aaa"/><line x1="390.8" y1="739.8" x2="390.8" y2="819" stroke="#ead493" stroke-width="3.2"/><rect x="387.40000000000003" y="731.8" width="6.8" height="13" rx="2.8" fill="#e8c670" opacity="0.8"/><rect x="388.40000000000003" y="734.8" width="4.8" height="0.9" fill="#f6ead0"/><rect x="388.40000000000003" y="737.8" width="4.8" height="0.9" fill="#f6ead0"/><rect x="388.40000000000003" y="740.8" width="4.8" height="0.9" fill="#f6ead0"/><rect x="387.40000000000003" y="814" width="6.8" height="13" rx="2.8" fill="#e8c670" opacity="0.8"/><rect x="388.40000000000003" y="817" width="4.8" height="0.9" fill="#f6ead0"/><rect x="388.40000000000003" y="820" width="4.8" height="0.9" fill="#f6ead0"/><rect x="388.40000000000003" y="823" width="4.8" height="0.9" fill="#f6ead0"/><path d="M419.5 816 V791.5 Q419.5 781.5 429.5 781.5 H777 Q784 781.5 784 774.5 V744" fill="none" stroke="#86a9b1" stroke-width="2.2"/><rect x="417.6" y="815.5" width="3.8" height="10.5" fill="#66b3d3"/><path d="M781.7 733.5 h4.6 l-0.4 11 h-3.8 z" fill="#66b3d3"/><rect x="365" y="846" width="74.5" height="49" rx="3" fill="#fff" stroke="#1f1f1f" stroke-width="3"/><line x1="367" y1="892" x2="437.5" y2="892" stroke="#1f1f1f" stroke-width="3"/><rect x="400" y="845" width="4" height="1.5" fill="#888"/><path d="M354.5 894 H449 Q449 900 444 900 H359.5 Q354.5 900 354.5 894 Z" fill="#1f1f1f"/><rect x="671.9" y="187" width="41.6" height="72.2" fill="#fff" stroke="#222" stroke-width="1.8"/><rect x="675.8" y="191.8" width="34" height="62.5" fill="url(#mesh)" stroke="#222" stroke-width="1.8"/><rect x="1019.4" y="187" width="41.6" height="72.2" fill="#fff" stroke="#222" stroke-width="1.8"/><rect x="1023.3" y="191.8" width="34" height="62.5" fill="url(#mesh)" stroke="#222" stroke-width="1.8"/><path d="M756.3 232 L758.8 253 Q767.3 257.5 776.3 255.5 L784.3 240" fill="#fff" stroke="#222" stroke-width="1.6"/><path d="M762.8 240 L764.3 254.5 M763.8 245.5 L779.3 247 M764.3 250.5 L777.3 251.5" fill="none" stroke="#222" stroke-width="1.2"/><ellipse cx="775.3" cy="224" rx="22.7" ry="17.8" transform="rotate(18 775.3 224)" fill="#fff" stroke="#222" stroke-width="1.8"/><ellipse cx="775.9" cy="223.2" rx="20.3" ry="15.6" transform="rotate(18 775.3 223)" fill="url(#mesh2)" stroke="#222" stroke-width="1.2"/><path d="M823.8 232 L826.3 253 Q834.8 257.5 843.8 255.5 L851.8 240" fill="#fff" stroke="#222" stroke-width="1.6"/><path d="M830.3 240 L831.8 254.5 M831.3 245.5 L846.8 247 M831.8 250.5 L844.8 251.5" fill="none" stroke="#222" stroke-width="1.2"/><ellipse cx="842.8" cy="224" rx="22.7" ry="17.8" transform="rotate(18 842.8 224)" fill="#fff" stroke="#222" stroke-width="1.8"/><ellipse cx="843.4" cy="223.2" rx="20.3" ry="15.6" transform="rotate(18 842.8 223)" fill="url(#mesh2)" stroke="#222" stroke-width="1.2"/><path d="M891 232 L893.5 253 Q902 257.5 911 255.5 L919 240" fill="#fff" stroke="#222" stroke-width="1.6"/><path d="M897.5 240 L899 254.5 M898.5 245.5 L914 247 M899 250.5 L912 251.5" fill="none" stroke="#222" stroke-width="1.2"/><ellipse cx="910" cy="224" rx="22.7" ry="17.8" transform="rotate(18 910 224)" fill="#fff" stroke="#222" stroke-width="1.8"/><ellipse cx="910.6" cy="223.2" rx="20.3" ry="15.6" transform="rotate(18 910 223)" fill="url(#mesh2)" stroke="#222" stroke-width="1.2"/><path d="M961.2 232 L963.7 253 Q972.2 257.5 981.2 255.5 L989.2 240" fill="#fff" stroke="#222" stroke-width="1.6"/><path d="M967.7 240 L969.2 254.5 M968.7 245.5 L984.2 247 M969.2 250.5 L982.2 251.5" fill="none" stroke="#222" stroke-width="1.2"/><ellipse cx="980.2" cy="224" rx="22.7" ry="17.8" transform="rotate(18 980.2 224)" fill="#fff" stroke="#222" stroke-width="1.8"/><ellipse cx="980.8000000000001" cy="223.2" rx="20.3" ry="15.6" transform="rotate(18 980.2 223)" fill="url(#mesh2)" stroke="#222" stroke-width="1.2"/><path d="M686.7 316 V325.7 Q686.7 333.7 694.7 333.7 H1038.9 Q1046.9 333.7 1046.9 325.7 V316" fill="none" stroke="#1a1a1a" stroke-width="2.6"/><line x1="768.7" y1="315" x2="768.7" y2="333.7" stroke="#1a1a1a" stroke-width="2.6"/><line x1="838.9" y1="315" x2="838.9" y2="333.7" stroke="#1a1a1a" stroke-width="2.6"/><line x1="906.5" y1="315" x2="906.5" y2="333.7" stroke="#1a1a1a" stroke-width="2.6"/><line x1="978" y1="315" x2="978" y2="333.7" stroke="#1a1a1a" stroke-width="2.6"/><rect x="683.00" y="292.00" width="7.4" height="15.8" rx="1.8" fill="#262626"/><rect x="684.40" y="294.30" width="4.60" height="1.1" fill="#a8a8a8" opacity="0.55"/><rect x="684.40" y="297.00" width="4.60" height="1.1" fill="#a8a8a8" opacity="0.55"/><path d="M684.90 300.60 h3.6 a1.6 1.6 0 0 1 0 3.2 h-3.6 z" fill="none" stroke="#a8a8a8" stroke-width="0.9" opacity="0.6"/><rect x="684.60" y="307.80" width="4.2" height="8.5" fill="#262626"/><rect x="685.60" y="309.40" width="2.20" height="0.8" fill="#a8a8a8" opacity="0.5"/><rect x="685.60" y="312.10" width="2.20" height="0.8" fill="#a8a8a8" opacity="0.5"/><rect x="685.60" y="314.80" width="2.20" height="0.8" fill="#a8a8a8" opacity="0.5"/><rect x="765.00" y="292.00" width="7.4" height="15.8" rx="1.8" fill="#262626"/><rect x="766.40" y="294.30" width="4.60" height="1.1" fill="#a8a8a8" opacity="0.55"/><rect x="766.40" y="297.00" width="4.60" height="1.1" fill="#a8a8a8" opacity="0.55"/><path d="M766.90 300.60 h3.6 a1.6 1.6 0 0 1 0 3.2 h-3.6 z" fill="none" stroke="#a8a8a8" stroke-width="0.9" opacity="0.6"/><rect x="766.60" y="307.80" width="4.2" height="8.5" fill="#262626"/><rect x="767.60" y="309.40" width="2.20" height="0.8" fill="#a8a8a8" opacity="0.5"/><rect x="767.60" y="312.10" width="2.20" height="0.8" fill="#a8a8a8" opacity="0.5"/><rect x="767.60" y="314.80" width="2.20" height="0.8" fill="#a8a8a8" opacity="0.5"/><rect x="835.20" y="292.00" width="7.4" height="15.8" rx="1.8" fill="#262626"/><rect x="836.60" y="294.30" width="4.60" height="1.1" fill="#a8a8a8" opacity="0.55"/><rect x="836.60" y="297.00" width="4.60" height="1.1" fill="#a8a8a8" opacity="0.55"/><path d="M837.10 300.60 h3.6 a1.6 1.6 0 0 1 0 3.2 h-3.6 z" fill="none" stroke="#a8a8a8" stroke-width="0.9" opacity="0.6"/><rect x="836.80" y="307.80" width="4.2" height="8.5" fill="#262626"/><rect x="837.80" y="309.40" width="2.20" height="0.8" fill="#a8a8a8" opacity="0.5"/><rect x="837.80" y="312.10" width="2.20" height="0.8" fill="#a8a8a8" opacity="0.5"/><rect x="837.80" y="314.80" width="2.20" height="0.8" fill="#a8a8a8" opacity="0.5"/><rect x="902.80" y="292.00" width="7.4" height="15.8" rx="1.8" fill="#262626"/><rect x="904.20" y="294.30" width="4.60" height="1.1" fill="#a8a8a8" opacity="0.55"/><rect x="904.20" y="297.00" width="4.60" height="1.1" fill="#a8a8a8" opacity="0.55"/><path d="M904.70 300.60 h3.6 a1.6 1.6 0 0 1 0 3.2 h-3.6 z" fill="none" stroke="#a8a8a8" stroke-width="0.9" opacity="0.6"/><rect x="904.40" y="307.80" width="4.2" height="8.5" fill="#262626"/><rect x="905.40" y="309.40" width="2.20" height="0.8" fill="#a8a8a8" opacity="0.5"/><rect x="905.40" y="312.10" width="2.20" height="0.8" fill="#a8a8a8" opacity="0.5"/><rect x="905.40" y="314.80" width="2.20" height="0.8" fill="#a8a8a8" opacity="0.5"/><rect x="974.30" y="292.00" width="7.4" height="15.8" rx="1.8" fill="#262626"/><rect x="975.70" y="294.30" width="4.60" height="1.1" fill="#a8a8a8" opacity="0.55"/><rect x="975.70" y="297.00" width="4.60" height="1.1" fill="#a8a8a8" opacity="0.55"/><path d="M976.20 300.60 h3.6 a1.6 1.6 0 0 1 0 3.2 h-3.6 z" fill="none" stroke="#a8a8a8" stroke-width="0.9" opacity="0.6"/><rect x="975.90" y="307.80" width="4.2" height="8.5" fill="#262626"/><rect x="976.90" y="309.40" width="2.20" height="0.8" fill="#a8a8a8" opacity="0.5"/><rect x="976.90" y="312.10" width="2.20" height="0.8" fill="#a8a8a8" opacity="0.5"/><rect x="976.90" y="314.80" width="2.20" height="0.8" fill="#a8a8a8" opacity="0.5"/><rect x="1043.20" y="292.00" width="7.4" height="15.8" rx="1.8" fill="#262626"/><rect x="1044.60" y="294.30" width="4.60" height="1.1" fill="#a8a8a8" opacity="0.55"/><rect x="1044.60" y="297.00" width="4.60" height="1.1" fill="#a8a8a8" opacity="0.55"/><path d="M1045.10 300.60 h3.6 a1.6 1.6 0 0 1 0 3.2 h-3.6 z" fill="none" stroke="#a8a8a8" stroke-width="0.9" opacity="0.6"/><rect x="1044.80" y="307.80" width="4.2" height="8.5" fill="#262626"/><rect x="1045.80" y="309.40" width="2.20" height="0.8" fill="#a8a8a8" opacity="0.5"/><rect x="1045.80" y="312.10" width="2.20" height="0.8" fill="#a8a8a8" opacity="0.5"/><rect x="1045.80" y="314.80" width="2.20" height="0.8" fill="#a8a8a8" opacity="0.5"/><rect x="878.80" y="350.60" width="7.4" height="15.5" rx="1.8" fill="#262626"/><rect x="880.20" y="352.90" width="4.60" height="1.1" fill="#a8a8a8" opacity="0.55"/><rect x="880.20" y="355.60" width="4.60" height="1.1" fill="#a8a8a8" opacity="0.55"/><path d="M880.70 359.20 h3.6 a1.6 1.6 0 0 1 0 3.2 h-3.6 z" fill="none" stroke="#a8a8a8" stroke-width="0.9" opacity="0.6"/><rect x="880.40" y="366.10" width="4.2" height="9.5" fill="#262626"/><rect x="881.40" y="367.70" width="2.20" height="0.8" fill="#a8a8a8" opacity="0.5"/><rect x="881.40" y="370.40" width="2.20" height="0.8" fill="#a8a8a8" opacity="0.5"/><rect x="881.40" y="373.10" width="2.20" height="0.8" fill="#a8a8a8" opacity="0.5"/><line x1="882.5" y1="374" x2="882.5" y2="426" stroke="#1a1a1a" stroke-width="2.6"/><path d="M882.5 386 L888.0 393.5 L882.5 391.5 L877.0 393.5 Z" fill="#1a1a1a"/><rect x="878.80" y="433.50" width="7.4" height="15.5" rx="1.8" fill="#262626"/><rect x="880.20" y="445.50" width="4.60" height="1.1" fill="#a8a8a8" opacity="0.55"/><rect x="880.20" y="442.80" width="4.60" height="1.1" fill="#a8a8a8" opacity="0.55"/><path d="M880.70 437.80 h3.6 a1.6 1.6 0 0 1 0 3.2 h-3.6 z" fill="none" stroke="#a8a8a8" stroke-width="0.9" opacity="0.6"/><rect x="880.40" y="424.00" width="4.2" height="9.5" fill="#262626"/><rect x="881.40" y="425.60" width="2.20" height="0.8" fill="#a8a8a8" opacity="0.5"/><rect x="881.40" y="428.30" width="2.20" height="0.8" fill="#a8a8a8" opacity="0.5"/><rect x="881.40" y="431.00" width="2.20" height="0.8" fill="#a8a8a8" opacity="0.5"/><rect x="878.80" y="522.50" width="7.4" height="15.5" rx="1.8" fill="#262626"/><rect x="880.20" y="524.80" width="4.60" height="1.1" fill="#a8a8a8" opacity="0.55"/><rect x="880.20" y="527.50" width="4.60" height="1.1" fill="#a8a8a8" opacity="0.55"/><path d="M880.70 531.10 h3.6 a1.6 1.6 0 0 1 0 3.2 h-3.6 z" fill="none" stroke="#a8a8a8" stroke-width="0.9" opacity="0.6"/><rect x="880.40" y="538.00" width="4.2" height="9.5" fill="#262626"/><rect x="881.40" y="539.60" width="2.20" height="0.8" fill="#a8a8a8" opacity="0.5"/><rect x="881.40" y="542.30" width="2.20" height="0.8" fill="#a8a8a8" opacity="0.5"/><rect x="881.40" y="545.00" width="2.20" height="0.8" fill="#a8a8a8" opacity="0.5"/><line x1="882.5" y1="546" x2="882.5" y2="582" stroke="#1a1a1a" stroke-width="2.6"/><path d="M882.5 557.5 L888.0 565.0 L882.5 563.0 L877.0 565.0 Z" fill="#1a1a1a"/><rect x="878.80" y="589.00" width="7.4" height="15.5" rx="1.8" fill="#262626"/><rect x="880.20" y="601.00" width="4.60" height="1.1" fill="#a8a8a8" opacity="0.55"/><rect x="880.20" y="598.30" width="4.60" height="1.1" fill="#a8a8a8" opacity="0.55"/><path d="M880.70 593.30 h3.6 a1.6 1.6 0 0 1 0 3.2 h-3.6 z" fill="none" stroke="#a8a8a8" stroke-width="0.9" opacity="0.6"/><rect x="880.40" y="579.50" width="4.2" height="9.5" fill="#262626"/><rect x="881.40" y="581.10" width="2.20" height="0.8" fill="#a8a8a8" opacity="0.5"/><rect x="881.40" y="583.80" width="2.20" height="0.8" fill="#a8a8a8" opacity="0.5"/><rect x="881.40" y="586.50" width="2.20" height="0.8" fill="#a8a8a8" opacity="0.5"/><path d="M779 627 V617 Q779 609 787 609 H951.6 Q959.6 609 959.6 617 V627" fill="none" stroke="#1a1a1a" stroke-width="2.6"/><line x1="882.5" y1="603" x2="882.5" y2="609" stroke="#1a1a1a" stroke-width="2.6"/><rect x="775.30" y="634.50" width="7.4" height="15.5" rx="1.8" fill="#262626"/><rect x="776.70" y="646.50" width="4.60" height="1.1" fill="#a8a8a8" opacity="0.55"/><rect x="776.70" y="643.80" width="4.60" height="1.1" fill="#a8a8a8" opacity="0.55"/><path d="M777.20 638.80 h3.6 a1.6 1.6 0 0 1 0 3.2 h-3.6 z" fill="none" stroke="#a8a8a8" stroke-width="0.9" opacity="0.6"/><rect x="776.90" y="625.00" width="4.2" height="9.5" fill="#262626"/><rect x="777.90" y="626.60" width="2.20" height="0.8" fill="#a8a8a8" opacity="0.5"/><rect x="777.90" y="629.30" width="2.20" height="0.8" fill="#a8a8a8" opacity="0.5"/><rect x="777.90" y="632.00" width="2.20" height="0.8" fill="#a8a8a8" opacity="0.5"/><rect x="955.90" y="634.50" width="7.4" height="15.5" rx="1.8" fill="#262626"/><rect x="957.30" y="646.50" width="4.60" height="1.1" fill="#a8a8a8" opacity="0.55"/><rect x="957.30" y="643.80" width="4.60" height="1.1" fill="#a8a8a8" opacity="0.55"/><path d="M957.80 638.80 h3.6 a1.6 1.6 0 0 1 0 3.2 h-3.6 z" fill="none" stroke="#a8a8a8" stroke-width="0.9" opacity="0.6"/><rect x="957.50" y="625.00" width="4.2" height="9.5" fill="#262626"/><rect x="958.50" y="626.60" width="2.20" height="0.8" fill="#a8a8a8" opacity="0.5"/><rect x="958.50" y="629.30" width="2.20" height="0.8" fill="#a8a8a8" opacity="0.5"/><rect x="958.50" y="632.00" width="2.20" height="0.8" fill="#a8a8a8" opacity="0.5"/><rect x="702" y="665.5" width="157" height="21" fill="#fff" stroke="#333" stroke-width="1.2"/><line x1="710.7" y1="665.5" x2="710.7" y2="686.5" stroke="#333" stroke-width="1"/><line x1="848.5" y1="665.5" x2="848.5" y2="686.5" stroke="#333" stroke-width="1"/><rect x="703.5" y="667.5" width="6" height="2.5" rx="1" fill="none" stroke="#333" stroke-width="0.9"/><rect x="703.5" y="682" width="6" height="2.5" rx="1" fill="none" stroke="#333" stroke-width="0.9"/><rect x="851" y="667.5" width="6" height="2.5" rx="1" fill="none" stroke="#333" stroke-width="0.9"/><rect x="851" y="682" width="6" height="2.5" rx="1" fill="none" stroke="#333" stroke-width="0.9"/><line x1="712" y1="675.5" x2="754" y2="675.5" stroke="#333" stroke-width="1"/><rect x="763.0" y="674.5" width="2" height="2" fill="#333"/><rect x="766.2" y="674.5" width="2" height="2" fill="#333"/><rect x="769.4" y="674.5" width="2" height="2" fill="#333"/><rect x="780.80" y="673" width="1.9" height="2.6" fill="#3a3a3a"/><rect x="780.80" y="676.6" width="1.9" height="2.6" fill="#3a3a3a"/><rect x="783.75" y="673" width="1.9" height="2.6" fill="#3a3a3a"/><rect x="783.75" y="676.6" width="1.9" height="2.6" fill="#3a3a3a"/><rect x="786.70" y="673" width="1.9" height="2.6" fill="#3a3a3a"/><rect x="786.70" y="676.6" width="1.9" height="2.6" fill="#3a3a3a"/><rect x="789.65" y="673" width="1.9" height="2.6" fill="#3a3a3a"/><rect x="789.65" y="676.6" width="1.9" height="2.6" fill="#3a3a3a"/><rect x="792.60" y="673" width="1.9" height="2.6" fill="#3a3a3a"/><rect x="792.60" y="676.6" width="1.9" height="2.6" fill="#3a3a3a"/><rect x="795.55" y="673" width="1.9" height="2.6" fill="#3a3a3a"/><rect x="795.55" y="676.6" width="1.9" height="2.6" fill="#3a3a3a"/><rect x="798.50" y="673" width="1.9" height="2.6" fill="#3a3a3a"/><rect x="798.50" y="676.6" width="1.9" height="2.6" fill="#3a3a3a"/><rect x="801.45" y="673" width="1.9" height="2.6" fill="#3a3a3a"/><rect x="801.45" y="676.6" width="1.9" height="2.6" fill="#3a3a3a"/><rect x="804.40" y="673" width="1.9" height="2.6" fill="#3a3a3a"/><rect x="804.40" y="676.6" width="1.9" height="2.6" fill="#3a3a3a"/><rect x="807.35" y="673" width="1.9" height="2.6" fill="#3a3a3a"/><rect x="807.35" y="676.6" width="1.9" height="2.6" fill="#3a3a3a"/><rect x="810.30" y="673" width="1.9" height="2.6" fill="#3a3a3a"/><rect x="810.30" y="676.6" width="1.9" height="2.6" fill="#3a3a3a"/><rect x="813.25" y="673" width="1.9" height="2.6" fill="#3a3a3a"/><rect x="813.25" y="676.6" width="1.9" height="2.6" fill="#3a3a3a"/><rect x="816.20" y="673" width="1.9" height="2.6" fill="#3a3a3a"/><rect x="816.20" y="676.6" width="1.9" height="2.6" fill="#3a3a3a"/><line x1="780.5" y1="676" x2="819" y2="676" stroke="#3a3a3a" stroke-width="0.7"/><path d="M819 673 L821.5 676 L819 679 Z" fill="#3a3a3a"/><rect x="832" y="680" width="4.5" height="4" fill="none" stroke="#333" stroke-width="0.9"/><rect x="839" y="680" width="4.5" height="4" fill="none" stroke="#333" stroke-width="0.9"/><g fill="none" stroke="#222" stroke-width="1.2" stroke-linejoin="round"><path d="M952 662.3 H967 Q969.5 662.3 970.5 664.8 L973.2 672" stroke-width="3.8" stroke-linecap="round"/><path d="M953 662.3 H967 Q969.5 662.3 970.5 664.8 L973 671" stroke="#fff" stroke-width="1.6"/><path d="M954.5 679.5 L968.5 670 H979 L985.5 677 L969 684.5 Z" fill="#fff"/><path d="M954.5 679.5 L955.5 682 L969 687 L985.5 679.5 V677"/></g><circle cx="966" cy="677" r="2" fill="none" stroke="#222" stroke-width="1"/><path d="M960 679.5 h6" stroke="#222" stroke-width="2"/><g fill="#fff" stroke="#c4c4c4" stroke-width="1.1"><path d="M792 910 C800 910 805 915 805 921 C805 927 800 931 792 931 L786 933 L787 929.5 C782 927.5 779.5 924.5 779.5 921 C779.5 915 785 910 792 910 Z"/><path d="M806 918 C814 918 820 923 820 929.5 C820 933 818 935.5 815.5 937.5 L816.5 941.5 L811.5 939.5 C809.8 940.5 808 941 806 941 C798 941 792 936 792 929.5 C792 923 798 918 806 918 Z"/></g><g fill="#bbb"><circle cx="788" cy="917" r="1.1"/><circle cx="796" cy="917" r="1.1"/><circle cx="802" cy="926" r="1"/><circle cx="810" cy="926" r="1"/></g><text x="45.0" y="80.75" font-size="12.53" fill="#333" transform="translate(45.0 0) scale(1.112 1) translate(-45.0 0)" >4K高清屏</text><text x="241.0" y="80.75" font-size="12.53" fill="#333" transform="translate(241.0 0) scale(1.074 1) translate(-241.0 0)" >4K高清屏</text><text x="391.0" y="42.5" font-size="8.51" letter-spacing="-0.73" fill="#999" >DANACOID 拼接屏</text><text x="470.0" y="42.5" font-size="8.51" letter-spacing="-0.77" fill="#999" >DANACOID 拼接屏</text><text x="391.0" y="93.5" font-size="8.51" letter-spacing="-0.73" fill="#999" >DANACOID 拼接屏</text><text x="470.0" y="93.5" font-size="8.51" letter-spacing="-0.77" fill="#999" >DANACOID 拼接屏</text><text x="82.5" y="167.75" font-size="9.62" fill="#d9d6c4" transform="translate(82.5 0) scale(1.412 1) translate(-82.5 0)" >HDMI线</text><text x="278.0" y="167.75" font-size="9.62" fill="#d9d6c4" transform="translate(278.0 0) scale(1.412 1) translate(-278.0 0)" >HDMI线</text><text x="471.0" y="167.75" font-size="9.62" fill="#d9d6c4" transform="translate(471.0 0) scale(1.412 1) translate(-471.0 0)" >HDMI线</text><text x="24.0" y="262.0" font-size="18.6" letter-spacing="0.85" fill="#222" stroke="#fff" stroke-width="0.3">输出接口机</text><text x="220.0" y="262.0" font-size="18.6" letter-spacing="0.83" fill="#222" stroke="#fff" stroke-width="0.3">输出接口机</text><text x="411.7" y="262.0" font-size="18.6" letter-spacing="1.25" fill="#222" stroke="#fff" stroke-width="0.3">输出接口机</text><text x="278.0" y="407.05" font-size="17.05" fill="#4f918c" transform="translate(278.0 0) scale(1.102 1) translate(-278.0 0)" stroke="#fff" stroke-width="0.5">CAT-7</text><text x="278.0" y="579.05" font-size="17.05" fill="#4f918c" transform="translate(278.0 0) scale(1.102 1) translate(-278.0 0)" stroke="#fff" stroke-width="0.5">CAT-7</text><text x="890.0" y="407.05" font-size="17.05" fill="#333" transform="translate(890.0 0) scale(1.111 1) translate(-890.0 0)" stroke="#fff" stroke-width="0.5">CAT-6</text><text x="890.5" y="579.05" font-size="17.05" fill="#333" transform="translate(890.5 0) scale(1.084 1) translate(-890.5 0)" stroke="#fff" stroke-width="0.5">CAT-6</text><text x="220.0" y="512.1" font-size="18.6" letter-spacing="0.7" fill="#222" stroke="#fff" stroke-width="0.3">万兆交换机</text><text x="796.7" y="512.5" font-size="22.23" fill="#222" transform="translate(796.7 0) scale(1.015 1) translate(-796.7 0)" stroke="#fff" stroke-width="0.3">PoE</text><text x="846.5" y="511.3" font-size="18.6" letter-spacing="1.47" fill="#222" stroke="#fff" stroke-width="0.3">千兆交换机</text><text x="67.1" y="718.9" font-size="18.6" letter-spacing="0.97" fill="#222" stroke="#fff" stroke-width="0.3">环境控制接口机</text><text x="355.6" y="714.1" font-size="18.6" letter-spacing="0.67" fill="#222" stroke="#fff" stroke-width="0.3">输入接口机</text><text x="729.6" y="715.05" font-size="18.6" letter-spacing="1.85" fill="#222" stroke="#fff" stroke-width="0.3">音频处理器</text><text x="920.2" y="714.7" font-size="19.2" fill="#222" transform="translate(920.2 0) scale(1.096 1) translate(-920.2 0)" stroke="#fff" stroke-width="0.3">Dante</text><text x="977.8" y="715.1" font-size="18.6" letter-spacing="2.2" fill="#222" stroke="#fff" stroke-width="0.3">话筒</text><text x="138.0" y="775.75" font-size="12.09" fill="#a9c8d6" transform="translate(138.0 0) scale(1.183 1) translate(-138.0 0)" >RS232/485</text><text x="396.0" y="767.5" font-size="10.15" fill="#d9d6c4" transform="translate(396.0 0) scale(1.343 1) translate(-396.0 0)" >HDMI线</text><text x="15.6" y="956.95" font-size="18.6" letter-spacing="0.8" fill="#222" stroke="#fff" stroke-width="0.3">灯光</text><text x="102.7" y="957.45" font-size="18.6" letter-spacing="1.1" fill="#222" stroke="#fff" stroke-width="0.3">窗帘</text><text x="185.8" y="956.95" font-size="18.6" letter-spacing="0.75" fill="#222" stroke="#fff" stroke-width="0.3">摄像机</text><text x="387.5" y="957.5" font-size="22.23" fill="#222" transform="translate(387.5 0) scale(1.071 1) translate(-387.5 0)" stroke="#fff" stroke-width="0.3">PC</text><text x="818.0" y="187.85" font-size="22.07" fill="#222" transform="translate(818.0 0) scale(1.015 1) translate(-818.0 0)" stroke="#fff" stroke-width="0.3">PoE</text><text x="867.0" y="187.7" font-size="18.6" letter-spacing="2.13" fill="#222" stroke="#fff" stroke-width="0.3">有源音箱</text><text x="824.0" y="934.75" font-size="27.09" letter-spacing="-0.38" fill="#fff" stroke="#b8b8b8" stroke-width="0.8">大因多媒体AV生态</text></svg></body></html>
